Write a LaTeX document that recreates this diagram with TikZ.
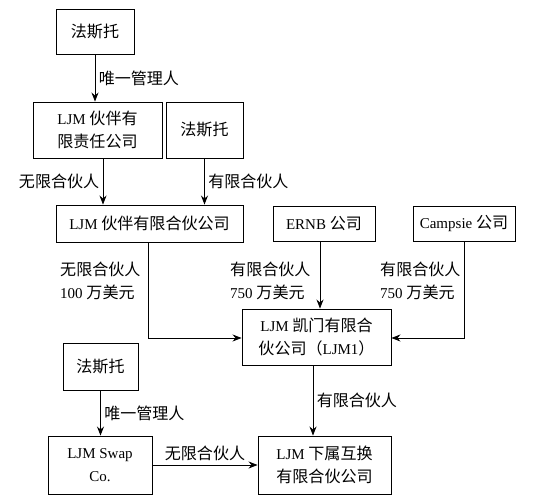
\documentclass[tikz,border=0pt]{standalone}
\usepackage{fontspec}
\setmainfont{Liberation Serif}
\newfontfamily\cjk[Scale=1.07]{Noto Sans CJK SC}
\usetikzlibrary{arrows.meta}

\begin{document}
\begin{tikzpicture}[x=1pt, y=-1pt,
        box/.style={draw, line width=0.9pt, align=center, inner sep=0pt, font=\fontsize{15}{23}\selectfont},
        lbl/.style={align=left, font=\fontsize{15}{23}\selectfont},
        arr/.style={-{Stealth[length=9pt,width=7pt]}, line width=0.9pt}]
        \useasboundingbox (0,0) rectangle (535,500);

        \node[box, minimum width=78pt, minimum height=45pt] (fa1) at (95,32) {\cjk 法斯托};
        \node[box, minimum width=129pt, minimum height=56pt] (llc) at (97.5,130) {LJM \cjk 伙伴有\\\cjk 限责任公司};
        \node[box, minimum width=77pt, minimum height=56pt] (fa2) at (204.5,130) {\cjk 法斯托};
        \node[box, minimum width=187pt, minimum height=37pt] (lp) at (149.5,223.5) {LJM \cjk 伙伴有限合伙公司};
        \node[box, minimum width=102pt, minimum height=35pt] (ernb) at (324,224) {ERNB \cjk 公司};
        \node[box, minimum width=102pt, minimum height=35pt] (camp) at (464,224) {Campsie \cjk 公司};
        \node[box, minimum width=149pt, minimum height=56pt] (ljm1) at (316.5,337) {LJM \cjk 凯门有限合\\\cjk 伙公司（{\rmfamily LJM1}）};
        \node[box, minimum width=75pt, minimum height=47pt] (fa3) at (100.5,366.5) {\cjk 法斯托};
        \node[box, minimum width=104pt, minimum height=58pt] (swap) at (100,465) {LJM Swap\\Co.};
        \node[box, minimum width=133pt, minimum height=58pt] (sub) at (324.5,465) {LJM \cjk 下属互换\\\cjk 有限合伙公司};

        \draw[arr] (fa1.south) -- (fa1.south |- llc.north) node[midway, right, lbl] (mgr1) {\cjk 唯一管理人};
        \draw[arr] ([xshift=5.5pt]llc.south) -- ([xshift=5.5pt]llc.south |- lp.north) node[midway, left, lbl] (gp1) {\cjk 无限合伙人};
        \draw[arr] (fa2.south) -- (fa2.south |- lp.north) node[midway, right, lbl] (lp1) {\cjk 有限合伙人};

        \draw[arr] ([xshift=-1.5pt]lp.south) |- ([yshift=-1pt]ljm1.west);
        \draw[arr] ([xshift=-4pt]ernb.south) -- ([xshift=-4pt]ernb.south |- ljm1.north);
        \draw[arr] (camp.south) |- ([yshift=-1pt]ljm1.east);
        \node[lbl, anchor=east] (gp2) at (144,281) {\cjk 无限合伙人\\100 \cjk 万美元};
        \node[lbl, anchor=east] (lp2) at (314,281) {\cjk 有限合伙人\\750 \cjk 万美元};
        \node[lbl, anchor=east] (lp3) at (464,281) {\cjk 有限合伙人\\750 \cjk 万美元};

        \draw[arr] ([xshift=-3.5pt]ljm1.south) -- ([xshift=-3.5pt]ljm1.south |- sub.north) node[midway, right, lbl] (lp4) {\cjk 有限合伙人};
        \draw[arr] (fa3.south) -- (fa3.south |- swap.north) node[midway, right, lbl] (mgr2) {\cjk 唯一管理人};
        \draw[arr] (swap) -- (sub) node[midway, above, lbl] (gp3) {\cjk 无限合伙人};
\end{tikzpicture}
\end{document}
